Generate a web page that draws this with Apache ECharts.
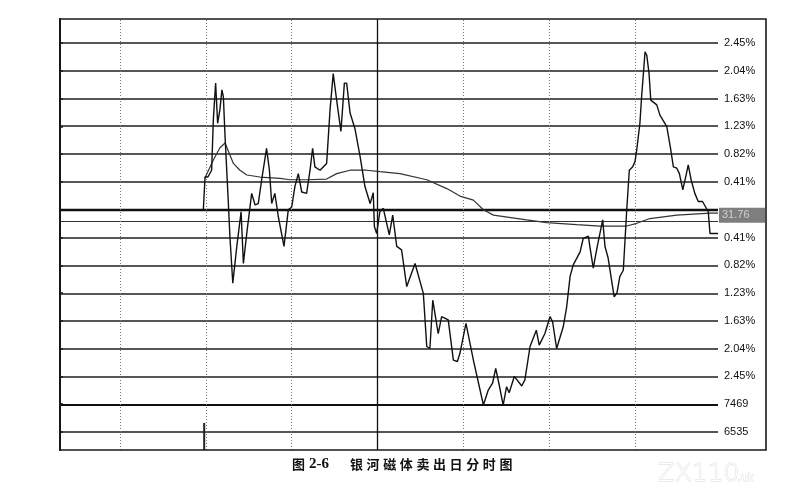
<!DOCTYPE html>
<html><head><meta charset="utf-8">
<script src="https://cdn.jsdelivr.net/npm/echarts@6/dist/echarts.min.js"></script>
<style>html,body{margin:0;padding:0;background:#fff}#c{width:801px;height:501px}</style>
</head><body><div id="c"></div>
<script>
// ---- data (minutes on the session axis, % change vs previous close 31.76) ----
const priceMinutes = [50.1,50.7,51.7,53.0,53.6,54.4,55.1,55.9,56.6,57.1,57.7,58.8,59.4,60.4,61.8,63.3,64.1,65.3,67.0,68.2,69.3,70.5,72.2,73.2,74.0,75.1,76.3,78.3,79.8,81.0,82.1,83.3,84.5,86.2,87.4,88.3,89.1,90.9,93.2,94.4,95.5,96.7,98.2,99.4,100.2,101.4,103.1,104.9,106.6,108.4,109.5,109.9,110.7,111.8,113.0,115.1,116.3,117.7,119.4,121.2,124.1,127.0,128.2,129.3,130.3,132.2,133.4,135.7,137.5,138.9,139.8,141.9,144.5,148.0,149.7,151.2,152.3,153.4,154.9,156.1,157.0,158.8,161.4,162.5,164.3,166.5,167.5,169.5,171.3,172.2,173.6,175.9,177.1,178.3,179.4,181.8,182.9,184.7,185.2,186.4,187.8,189.7,190.5,191.6,193.7,194.7,195.7,196.9,198.1,199.0,200.2,201.0,201.6,202.7,203.3,204.5,205.1,205.9,206.5,208.6,209.7,212.1,213.3,214.4,215.6,216.5,217.7,218.8,219.6,220.6,221.9,223.1,224.6,226.6,227.2,230.0];
const pricePct = [0.00,0.48,0.48,0.58,1.32,1.86,1.27,1.47,1.76,1.66,1.07,0.14,-0.40,-1.08,-0.54,-0.03,-0.79,-0.34,0.24,0.07,0.09,0.44,0.90,0.58,0.09,0.24,-0.10,-0.54,0.00,0.04,0.34,0.53,0.26,0.24,0.58,0.90,0.63,0.58,0.68,1.47,2.00,1.61,1.15,1.86,1.86,1.42,1.19,0.78,0.34,0.09,0.25,-0.25,-0.35,-0.03,0.02,-0.37,-0.08,-0.54,-0.59,-1.13,-0.79,-1.23,-2.01,-2.04,-1.33,-1.82,-1.57,-1.62,-2.21,-2.23,-2.11,-1.67,-2.21,-2.87,-2.65,-2.55,-2.33,-2.55,-2.87,-2.60,-2.69,-2.45,-2.59,-2.50,-2.01,-1.77,-1.99,-1.82,-1.57,-1.65,-2.04,-1.72,-1.43,-0.98,-0.81,-0.62,-0.42,-0.39,-0.54,-0.86,-0.54,-0.15,-0.54,-0.71,-1.28,-1.22,-0.98,-0.89,0.00,0.58,0.63,0.71,0.88,1.27,1.66,2.32,2.27,2.00,1.61,1.54,1.39,1.22,0.93,0.63,0.61,0.53,0.29,0.50,0.66,0.44,0.24,0.12,0.12,-0.03,-0.35,-0.35];
const avgMinutes = [50.7,53.6,55.9,57.7,60.6,62.9,65.3,69.9,76.9,80.4,86.3,93.2,96.7,101.4,107.2,111.8,118.8,128.2,135.2,139.8,144.5,148.0,151.5,163.1,170.1,180.6,188.7,198.1,201.6,206.2,215.6,227.2,230.0];
const avgPct = [0.47,0.73,0.91,0.98,0.68,0.58,0.51,0.48,0.46,0.44,0.44,0.45,0.53,0.58,0.58,0.56,0.53,0.44,0.31,0.20,0.14,0.00,-0.08,-0.15,-0.19,-0.22,-0.24,-0.24,-0.20,-0.13,-0.08,-0.05,-0.05];
const volMinutes = [50.4];
const volValues = [6000];
const tickLabels = ['2.45%','2.04%','1.63%','1.23%','0.82%','0.41%','31.76','0.41%','0.82%','1.23%','1.63%','2.04%','2.45%','7469','6535'];
const captionFig = '图';
const captionNum = '2-6';
const captionTitle = '银河磁体卖出日分时图';

// ---- axis structure ----
const STEP = 2.45 / 6;              // % per grid row
const Y_MAX = 6.862 * STEP, Y_MIN = -8.647 * STEP;
const X_MIN = 0, X_MAX = 230;
const vLinesDotted = [21, 51, 81, 141, 171, 201];
const vLineSolid = 111;

const tickVals = tickLabels.map((_, i) => (6 - i) * STEP + (i === 6 ? -0.2 * STEP : 0));
function labelFor(v) {
  let best = 0, d = 1e9;
  tickVals.forEach((t, i) => { const e = Math.abs(t - v); if (e < d) { d = e; best = i; } });
  return best === 6 ? '{box|' + tickLabels[best] + '}' : '{n|' + tickLabels[best] + '}';
}

const hLines = [];
for (let k = 6; k >= -8; k--) {
  let lw = 1.5, col = '#1e1e1e';
  if (k === 0) { lw = 2.3; col = '#111'; }
  if (k === -7) { lw = 2.2; col = '#111'; }
  hLines.push({ yAxis: k * STEP, lineStyle: { color: col, width: lw, type: 'solid' } });
}
hLines.push({ yAxis: -0.41 * STEP, lineStyle: { color: '#333', width: 1, type: 'solid' } });
const vLines = vLinesDotted.map(x => ({ xAxis: x, lineStyle: { color: '#777', width: 1, type: [1, 2] } }));
vLines.push({ xAxis: vLineSolid, lineStyle: { color: '#111', width: 1.3, type: 'solid' } });

const priceData = priceMinutes.map((t, i) => [t, pricePct[i]]);
const avgData = avgMinutes.map((t, i) => [t, avgPct[i]]);
const volData = volMinutes.map((t, i) => [t, volValues[i]]);

const chart = echarts.init(document.getElementById('c'), null, { renderer: 'canvas' });
const capFont = 'bold 13px "Noto Sans CJK SC"';
const caption = [];
caption.push({ type: 'text', left: 292, top: 458, style: { text: captionFig, font: capFont, fill: '#111' } });
caption.push({ type: 'text', left: 309, top: 457, style: { text: captionNum, font: 'bold 15px "Liberation Serif"', fill: '#111' } });
captionTitle.split('').forEach((ch, i) => {
  caption.push({ type: 'text', left: 350 + i * 16.6, top: 458, style: { text: ch, font: capFont, fill: '#111' } });
});

chart.setOption({
  animation: false,
  backgroundColor: '#fff',
  grid: [
    { left: 60, right: 83, top: 19, bottom: 51, show: false },
    { left: 60, right: 83, top: 405, bottom: 51, show: false }
  ],
  xAxis: [
    { type: 'value', gridIndex: 0, min: X_MIN, max: X_MAX, show: false },
    { type: 'value', gridIndex: 1, min: X_MIN, max: X_MAX, show: false }
  ],
  yAxis: [
    {
      type: 'value', gridIndex: 0, min: Y_MIN, max: Y_MAX, position: 'right',
      splitLine: { show: false },
      axisLine: { show: true, lineStyle: { color: '#111', width: 2 } },
      axisTick: { show: true, length: 3, customValues: tickVals.filter((_, i) => i !== 6), lineStyle: { color: '#111', width: 1.5 } },
      axisLabel: {
        show: true, margin: 1, customValues: tickVals, formatter: labelFor,
        rich: {
          n: { fontFamily: 'Liberation Sans, Arial', fontSize: 11, color: '#111', padding: [0, 0, 0, 5] },
          box: { fontFamily: 'Liberation Sans, Arial', fontSize: 11, color: '#cfcfcf', backgroundColor: '#7e7e7e', width: 43, height: 15, lineHeight: 15, padding: [0, 0, 0, 3] }
        }
      }
    },
    { type: 'value', gridIndex: 1, min: 0, max: 10000, show: false }
  ],
  graphic: [
    { type: 'rect', shape: { x: 60, y: 19, width: 706, height: 431 }, style: { fill: 'none', stroke: '#1a1a1a', lineWidth: 1.6 }, z: 100 },
    ...caption,
    { type: 'text', left: 657, top: 461, style: { text: 'ZX110', font: '300 25px "DejaVu Sans"', fill: '#fff', stroke: '#dcdcdc', lineWidth: 1 } },
    { type: 'text', left: 737, top: 472, style: { text: '.uk', font: '11px "DejaVu Sans"', fill: '#fff', stroke: '#dcdcdc', lineWidth: 0.8 } }
  ],
  series: [
    {
      type: 'line', xAxisIndex: 0, yAxisIndex: 0, data: avgData, symbol: 'none',
      lineStyle: { color: '#333', width: 1.2 }, z: 3,
      markLine: { silent: true, symbol: 'none', label: { show: false }, data: hLines.concat(vLines), z: 1 }
    },
    {
      type: 'line', xAxisIndex: 0, yAxisIndex: 0, data: priceData, symbol: 'none',
      lineStyle: { color: '#111', width: 1.4 }, z: 4
    },
    {
      type: 'bar', xAxisIndex: 1, yAxisIndex: 1, data: volData, barWidth: 2,
      itemStyle: { color: '#222' }
    }
  ]
});
</script></body></html>
